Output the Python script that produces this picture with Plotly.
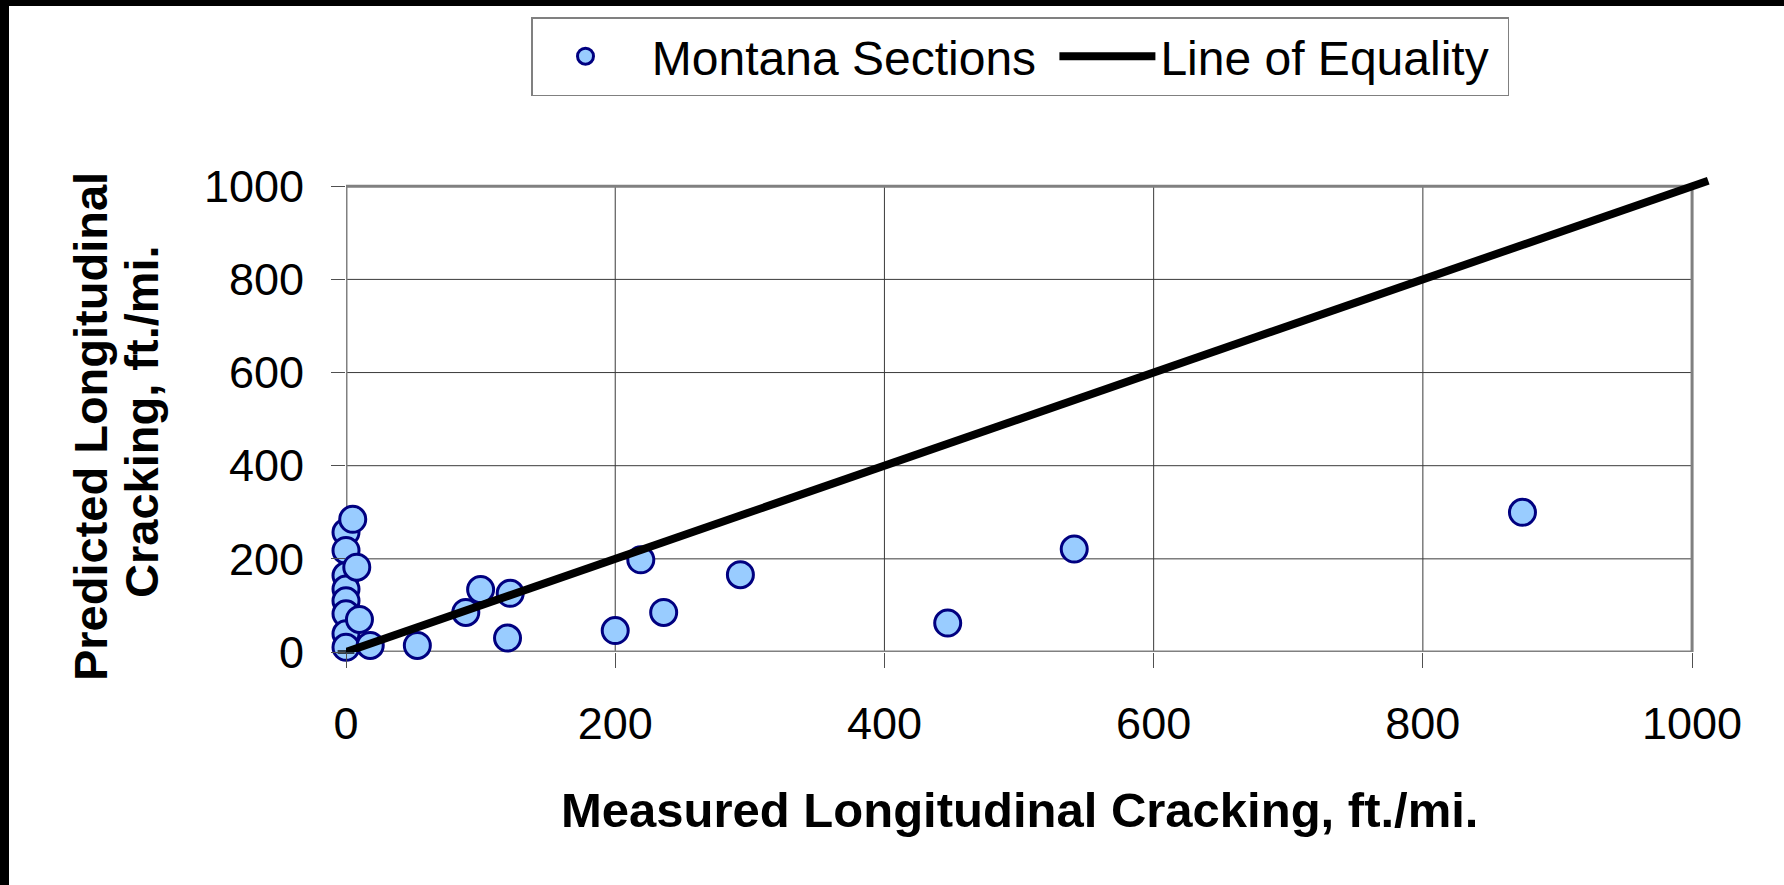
import plotly.graph_objects as go

# ---- data ----
measured = [0, 0, 0, 0, 0, 0, 0, 0, 5, 8, 10, 18, 53, 89, 100, 122, 120,
            200, 219, 236, 293, 447, 541, 874]
predicted = [257, 218, 164, 135, 110, 82, 39, 10, 285, 182, 70, 14, 14, 85, 134, 126, 30,
             46, 198, 85, 166, 62, 221, 300]
equality_x = [0, 1012]
equality_y = [0, 1012]
tick_vals = [0, 200, 400, 600, 800, 1000]
tick_text = ["0", "200", "400", "600", "800", "1000"]
series_names = ["\u00a0Montana Sections\u00a0", "Line of Equality\u00a0"]

FONT = "Arial, 'Liberation Sans', sans-serif"
W, H = 1784, 885
ML, MR, MT, MB = 346, 65, 176, 233
PW = W - ML - MR
PH = H - MT - MB
GRID = "#3a3a3a"

fig = go.Figure()
fig.add_trace(go.Scatter(
    x=measured, y=predicted, mode="markers", name=series_names[0],
    marker=dict(size=26, color="#99CCFF", line=dict(color="#000080", width=3)),
    cliponaxis=False,
))
fig.add_trace(go.Scatter(
    x=equality_x, y=equality_y, mode="lines+markers", name=series_names[1],
    line=dict(color="black", width=8),
    marker=dict(symbol="line-ew-open", size=[12, 0], line=dict(color="black", width=4)),
    cliponaxis=False,
))

lo, hi = tick_vals[0], tick_vals[-1]
# gridlines limited to the 0..1000 frame
for tv in tick_vals[1:-1]:
    fig.add_shape(type="line", xref="x", yref="y", x0=tv, x1=tv, y0=lo, y1=hi,
                  line=dict(color=GRID, width=1), layer="below")
    fig.add_shape(type="line", xref="x", yref="y", x0=lo, x1=hi, y0=tv, y1=tv,
                  line=dict(color=GRID, width=1), layer="below")
# plot frame
fig.add_shape(type="rect", xref="x", yref="y", x0=lo, x1=hi, y0=lo, y1=hi,
              line=dict(color="#808080", width=3), layer="below")

# black image borders
fig.add_shape(type="rect", xref="paper", yref="paper",
              x0=-ML / PW, x1=(-ML + 9) / PW, y0=-MB / PH, y1=(PH + MT) / PH,
              line=dict(width=0), fillcolor="black", layer="above")
fig.add_shape(type="rect", xref="paper", yref="paper",
              x0=-ML / PW, x1=(PW + MR) / PW, y0=(PH + MT - 6) / PH, y1=(PH + MT) / PH,
              line=dict(width=0), fillcolor="black", layer="above")

# axis titles
fig.add_annotation(text="<b>Measured Longitudinal Cracking, ft./mi.</b>",
                   xref="x", x=500, yref="paper", y=(652 - 810) / PH,
                   xanchor="center", yanchor="middle", showarrow=False,
                   font=dict(family=FONT, size=49, color="black"))
fig.add_annotation(text="<b>Predicted Longitudinal</b>",
                   xref="paper", x=(90 - ML) / PW, yref="y", y=483,
                   xanchor="center", yanchor="middle", showarrow=False, textangle=-90,
                   font=dict(family=FONT, size=47, color="black"))
fig.add_annotation(text="<b>Cracking, ft./mi.</b>",
                   xref="paper", x=(142 - ML) / PW, yref="y", y=494,
                   xanchor="center", yanchor="middle", showarrow=False, textangle=-90,
                   font=dict(family=FONT, size=47, color="black"))

axis_common = dict(
    tickvals=tick_vals, ticktext=tick_text,
    showgrid=False, zeroline=False, showline=False,
    ticks="outside", tickcolor="#505050", tickwidth=1,
    tickfont=dict(family=FONT, size=45, color="black"),
)
fig.update_xaxes(range=[0, 1020], ticklen=15, ticklabelstandoff=17, **axis_common)
fig.update_yaxes(range=[0, 1022], ticklen=14, ticklabelstandoff=18, **axis_common)

fig.update_layout(
    width=W, height=H, autosize=False,
    margin=dict(l=ML, r=MR, t=MT, b=MB, pad=0),
    paper_bgcolor="white", plot_bgcolor="white",
    showlegend=True,
    legend=dict(
        orientation="h", xref="container", yref="container",
        x=531 / W, xanchor="left", y=1 - 17 / H, yanchor="top",
        font=dict(family=FONT, size=48, color="black"),
        bordercolor="#808080", borderwidth=1.5, bgcolor="white",
        itemwidth=96, itemsizing="trace",
    ),
)

fig.write_html("out.html", config={"displayModeBar": False},
               post_script="document.body.style.margin='0px';")
